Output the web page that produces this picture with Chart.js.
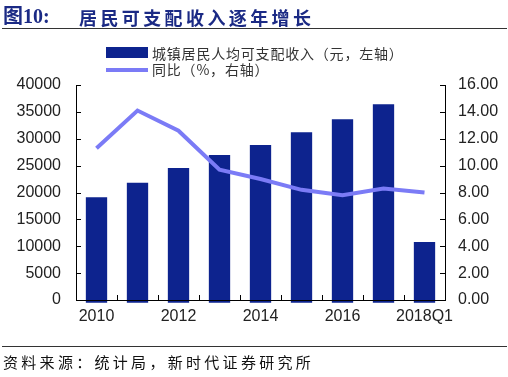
<!DOCTYPE html>
<html><head><meta charset="utf-8">
<script src="https://cdn.jsdelivr.net/npm/chart.js@4.4.1/dist/chart.umd.min.js"></script>
<style>
html,body{margin:0;padding:0;background:#fff;width:508px;height:377px;overflow:hidden;position:relative;font-family:"Liberation Sans","Noto Sans CJK SC",sans-serif;}
#title{position:absolute;left:3px;top:4px;font-family:"Liberation Serif","Noto Sans CJK SC",serif;font-weight:bold;font-size:20px;color:#1b2a85;white-space:nowrap;line-height:24px;}
#title .t2{position:absolute;left:76px;top:1px;letter-spacing:3.4px;font-size:18px;font-family:"Noto Sans CJK SC",sans-serif;}
#topline{position:absolute;left:2px;top:28px;width:505px;height:1px;background:#333;}
#botline{position:absolute;left:2px;top:346px;width:505px;height:1px;background:#333;}
#source{position:absolute;left:3px;top:352px;font-size:15px;letter-spacing:3.3px;color:#111;white-space:nowrap;font-family:"Noto Sans CJK SC",sans-serif;line-height:20px;}
#legend{position:absolute;left:106px;top:45px;font-size:14px;letter-spacing:0.8px;color:#333;font-family:"Noto Sans CJK SC",sans-serif;}
.li{position:relative;height:16px;line-height:16px;white-space:nowrap;}
.sw{position:absolute;left:0;width:42px;}
.li span.tx{position:absolute;left:46px;top:0;}
#wrap{position:absolute;left:0;top:0;width:508px;height:377px;}
</style></head>
<body>
<div id="wrap"><canvas id="c" width="508" height="377"></canvas></div>
<div id="title">图10:<span class="t2">居民可支配收入逐年增长</span></div>
<div id="topline"></div>
<div id="legend"></div>
<div id="botline"></div>
<div id="source">资料来源：统计局，新时代证券研究所</div>
<script>
const categories = ["2010","2011","2012","2013","2014","2015","2016","2017","2018Q1"];
const incomeValues = [19109, 21810, 24565, 26955, 28844, 31195, 33616, 36396, 10781];
const yoyValues = [11.3, 14.1, 12.6, 9.7, 9.0, 8.2, 7.8, 8.3, 8.0];
const seriesNames = ["城镇居民人均可支配收入（元，左轴）", "同比（%，右轴）"];
const leftTicks = [0,5000,10000,15000,20000,25000,30000,35000,40000];
const rightTicks = [0,2,4,6,8,10,12,14,16];

const barColor = "#0d238e";
const lineColor = "#7b7bf6";

// HTML legend
const lg = document.getElementById('legend');
lg.innerHTML =
  '<div class="li"><div class="sw" style="top:2px;height:11px;background:'+barColor+'"></div><span class="tx">'+seriesNames[0]+'</span></div>'+
  '<div class="li"><div class="sw" style="top:7px;height:4px;background:'+lineColor+'"></div><span class="tx">'+seriesNames[1]+'</span></div>';

const innerTicks = {
  id:'innerTicks',
  afterDraw(chart){
    const ctx = chart.ctx, a = chart.chartArea;
    const x = chart.scales.x, yl = chart.scales.y, yr = chart.scales.y1;
    ctx.save();
    ctx.strokeStyle = '#000';
    ctx.lineWidth = 1;
    ctx.beginPath();
    ctx.moveTo(Math.round(a.left)+0.5, a.top); ctx.lineTo(Math.round(a.left)+0.5, a.bottom);
    ctx.moveTo(Math.round(a.right)+0.5, a.top); ctx.lineTo(Math.round(a.right)+0.5, a.bottom);
    ctx.moveTo(a.left, Math.round(a.bottom)+0.5); ctx.lineTo(a.right+1, Math.round(a.bottom)+0.5);
    leftTicks.forEach(v=>{const p=Math.round(yl.getPixelForValue(v))+0.5; ctx.moveTo(a.left,p); ctx.lineTo(a.left+5,p);});
    rightTicks.forEach(v=>{const p=Math.round(yr.getPixelForValue(v))+0.5; ctx.moveTo(a.right,p); ctx.lineTo(a.right-5,p);});
    for(let i=1;i<categories.length;i++){
      const p = Math.round((x.getPixelForValue(i-1)+x.getPixelForValue(i))/2)+0.5;
      ctx.moveTo(p,a.bottom); ctx.lineTo(p,a.bottom-5);
    }
    ctx.stroke();
    ctx.restore();
  }
};

const tickFont = {family:"Liberation Sans, Arial, sans-serif", size:16};
new Chart(document.getElementById('c'), {
  data:{
    labels: categories,
    datasets:[
      {type:'line', label:seriesNames[1], data:yoyValues, yAxisID:'y1', borderColor:lineColor, backgroundColor:lineColor, borderWidth:4, pointRadius:0, tension:0, order:0},
      {type:'bar', label:seriesNames[0], data:incomeValues, yAxisID:'y', backgroundColor:barColor, barPercentage:0.52, categoryPercentage:1.0, base:-500, clip:false, order:1}
    ]
  },
  options:{
    responsive:false, animation:false,
    layout:{padding:{left:0,right:0,top:85,bottom:47}},
    plugins:{legend:{display:false}, tooltip:{enabled:false}},
    scales:{
      x:{
        grid:{display:false, drawTicks:false}, border:{display:false},
        ticks:{autoSkip:false, maxRotation:0, padding:7, color:'#222', font:tickFont,
          callback:(v,i)=> i%2===0 ? categories[i] : ''},
        afterFit(s){s.height=30;}
      },
      y:{
        position:'left', min:0, max:40000,
        grid:{display:false, drawTicks:false}, border:{display:false},
        ticks:{stepSize:5000, padding:15, color:'#222', font:tickFont, callback:v=>String(v)},
        afterBuildTicks(s){s.ticks = leftTicks.map(v=>({value:v}));},
        afterFit(s){s.width=76;}
      },
      y1:{
        position:'right', min:0, max:16,
        grid:{display:false, drawTicks:false}, border:{display:false},
        ticks:{stepSize:2, padding:13, color:'#222', font:tickFont, callback:v=>Number(v).toFixed(2)},
        afterBuildTicks(s){s.ticks = rightTicks.map(v=>({value:v}));},
        afterFit(s){s.width=508-445;}
      }
    }
  },
  plugins:[innerTicks]
});
</script>
</body></html>
